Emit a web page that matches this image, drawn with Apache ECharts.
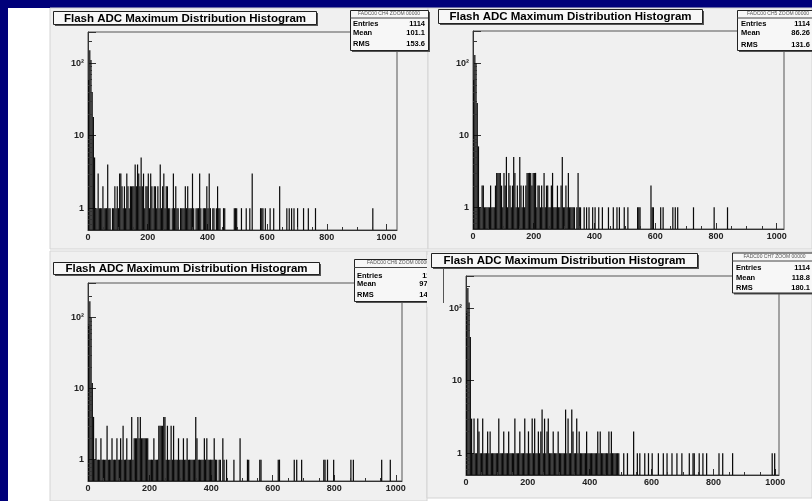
<!DOCTYPE html>
<html><head><meta charset="utf-8">
<script src="https://cdn.jsdelivr.net/npm/echarts/dist/echarts.min.js"></script>
<style>html,body{margin:0;padding:0;background:#00007a;}#c{width:812px;height:501px;}</style>
</head><body><div id="c"></div><script>
// ---- data ----
const binWidth = 4;            // ADC counts per histogram bin
const yMinValue = 0.5;         // bottom of the log axis
const xMinorTicks = [50,100,150,250,300,350,450,500,550,650,700,750,850,900,950];
const yMinorTicks = [0.6,0.7,0.8,0.9,2,3,4,5,6,7,8,9,20,30,40,50,60,70,80,90,200];
const histTitle = 'Flash ADC Maximum Distribution Histogram';
const statHeaders = ['FADC00 CH4 ZOOM 00000','FADC00 CH5 ZOOM 00000','FADC00 CH6 ZOOM 00000','FADC00 CH7 ZOOM 00000'];
const statEntries = ['1114','1114','1114','1114'];
const statMeans = ['101.1','86.26','97.79','118.8'];
const statRms = ['153.6','131.6','148.1','180.1'];

const ch4Counts = [
 60,150,110,40,18,5,1,1,3,1,1,1,2,1,1,1,
 4,1,1,0,1,1,2,1,2,1,3,3,2,1,2,1,
 3,2,1,2,2,2,2,4,2,4,3,2,5,2,3,1,
 2,2,3,1,3,2,1,2,2,1,2,1,4,1,2,3,
 1,2,2,1,1,0,1,3,1,2,1,1,0,1,1,1,
 1,2,1,2,1,1,1,3,1,0,1,1,1,3,1,0,
 1,1,1,2,1,3,1,0,1,1,0,1,2,1,1,0,
 0,1,1,0,0,0,0,0,0,0,1,1,1,0,0,0,
 1,0,0,0,1,0,0,1,0,3,0,0,0,0,0,0,
 1,1,1,0,1,0,0,0,1,0,0,1,0,0,0,0,
 2,0,0,0,0,0,1,0,1,0,1,0,1,0,0,1,
 0,0,0,0,1,0,0,0,1,0,0,0,0,0,1,0,
 0,0,0,0,0,0,0,0,0,0,0,0,0,0,0,0,
 0,0,0,0,0,0,0,0,0,0,0,0,0,0,0,0,
 0,0,0,0,0,0,0,0,0,0,0,0,0,0,1,0,
 0,0,0,0,0,0,0,0,0,0,0,0,0,0,0,0];
const ch5Counts = [
 60,130,100,28,7,1,1,2,2,1,1,1,1,1,2,1,
 1,1,2,3,3,3,3,2,1,3,2,5,1,3,2,1,
 2,5,3,1,2,1,5,2,1,2,1,2,3,3,3,3,
 2,3,3,3,1,2,2,1,2,1,3,1,2,2,1,1,
 2,3,1,1,1,2,1,1,2,5,1,1,2,1,3,1,
 1,1,1,1,0,1,3,1,1,0,0,1,0,1,0,1,
 0,0,1,0,1,0,0,1,0,0,1,0,0,0,0,1,
 0,0,0,1,0,0,1,0,1,0,0,0,1,0,0,1,
 0,0,0,0,0,0,0,1,1,1,0,0,0,0,0,0,
 0,0,2,1,1,0,0,0,0,0,1,0,1,0,0,0,
 0,0,0,0,1,0,1,0,1,0,0,0,0,0,0,0,
 0,0,0,0,0,1,0,0,0,0,0,0,0,0,0,0,
 0,0,0,0,0,0,1,0,0,0,0,0,0,0,0,0,
 0,1,0,0,0,0,0,0,0,0,0,0,0,0,0,0,
 0,0,0,0,0,0,0,0,0,0,0,0,0,0,0,0,
 0,0,0,0,0,0,0,0,0,0,0,0,0,0,0,0];
const ch6Counts = [
 80,170,100,12,4,1,2,1,1,1,2,1,1,1,1,3,
 1,1,1,2,1,1,1,2,1,1,2,1,3,1,1,2,
 1,1,1,4,1,2,2,2,4,2,4,2,2,2,2,2,
 2,1,1,1,1,2,1,1,1,3,3,3,3,4,4,1,
 3,1,1,3,1,3,1,1,1,2,1,1,1,2,1,1,
 2,1,1,1,1,1,1,4,2,1,1,1,1,1,2,1,
 2,1,1,1,1,1,2,1,1,0,1,1,0,2,1,0,
 1,0,0,0,0,0,1,0,0,0,0,2,0,0,0,0,
 0,1,1,0,0,0,0,0,0,0,0,1,1,0,0,0,
 0,0,0,0,0,0,0,0,0,0,1,1,0,0,0,0,
 0,0,0,0,0,0,0,1,0,1,0,0,0,1,0,0,
 0,0,0,0,0,0,0,0,0,0,0,0,0,0,0,1,
 1,0,1,0,0,0,0,1,0,0,0,0,0,0,0,0,
 0,0,0,0,0,1,0,1,0,0,0,0,0,0,0,0,
 0,0,0,0,0,0,0,0,0,0,0,0,0,0,1,0,
 0,0,0,0,0,1,0,0,0,0,0,0,0,0,0,0];
const ch7Counts = [
 90,190,120,40,3,1,3,1,1,3,2,1,1,3,1,1,
 1,2,1,2,1,1,1,1,1,1,3,1,1,1,2,1,
 1,1,2,1,1,1,1,3,1,1,1,2,1,1,1,3,
 1,1,2,1,1,3,1,3,1,1,2,1,2,4,1,3,
 1,2,3,1,1,1,2,1,1,1,2,1,1,1,1,1,
 4,1,3,1,1,4,2,1,1,3,1,2,1,1,1,1,
 1,2,1,1,1,1,1,1,1,1,2,1,2,1,1,1,
 1,1,1,2,1,2,1,1,1,1,1,1,0,0,0,1,
 0,0,1,0,0,0,0,2,0,0,1,0,1,0,0,0,
 1,0,0,1,0,0,1,0,0,0,0,1,0,0,0,1,
 0,0,1,0,0,0,1,0,0,0,1,0,0,0,1,0,
 0,0,0,0,1,0,0,1,1,0,0,0,1,0,0,1,
 0,0,1,0,0,0,0,0,0,0,0,0,1,0,0,1,
 0,0,0,0,0,0,0,1,0,0,0,0,0,0,0,0,
 0,0,0,0,0,0,0,0,0,0,0,0,0,0,0,0,
 0,0,0,0,0,0,0,1,0,1,0,0,0,0,0,0];
const panelCounts = [ch4Counts, ch5Counts, ch6Counts, ch7Counts];

// ---- layout (pixels) ----
const FONT = '"Liberation Sans", Arial, sans-serif';
const PANEL_BG = '#f0f0f0';
const layout = [
 {bg:[50,8,378,241], grid:[88,32,309,198], xMax:1035, yMax:268, title:[53,11,263,13],
  stat:{x:350,y:10,w:78,h:40,hdr:13.5,sep:17.5,rows:[24,32.5,44],lx:353,vx:425}},
 {bg:[428,8,384,241], grid:[473,31,311,198], xMax:1024, yMax:279, title:[438,9,264,14],
  stat:{x:737,y:10,w:82,h:40,hdr:13.5,sep:17.5,rows:[24,32.5,45],lx:741,vx:810}},
 {bg:[50,251,377,250], grid:[88,283,314,198], xMax:1020, yMax:308, title:[53,262,266,12],
  stat:{x:354,y:259,w:88,h:42,hdr:263,sep:267,rows:[275.5,283.5,295],lx:357,vx:438}},
 {bg:[427,251,385,247], grid:[466,276,313,199], xMax:1012, yMax:279, title:[431,253,266,14],
  stat:{x:732,y:252.5,w:85,h:40,hdr:256.5,sep:260.5,rows:[268.3,278.3,288.3],lx:736,vx:810}}
];

function fmtLog(v){
  const e = Math.log10(v);
  if (Math.abs(e - Math.round(e)) > 1e-6) return '';
  const r = Math.round(e);
  if (r === 0) return '1';
  if (r === 1) return '10';
  if (r === 2) return '10²';
  return '';
}

const grids = [], xAxes = [], yAxes = [], series = [], gfx = [];
gfx.push({type:'rect', shape:{x:8,y:8,width:804,height:493}, style:{fill:'#ffffff'}, z:-10, silent:true});

layout.forEach((L, i) => {
  gfx.push({type:'rect', shape:{x:L.bg[0],y:L.bg[1],width:L.bg[2],height:L.bg[3]},
    style:{fill:PANEL_BG, stroke:'#d4d4d4', lineWidth:1}, z:-9, silent:true});
  grids.push({left:L.grid[0], top:L.grid[1], width:L.grid[2], height:L.grid[3],
    show:true, borderColor:'#555', borderWidth:1, backgroundColor:'transparent'});
  xAxes.push({type:'value', gridIndex:i, min:0, max:L.xMax, interval:200,
    axisLine:{show:true, lineStyle:{color:'#333', width:1}},
    axisTick:{show:true, inside:true, length:6, lineStyle:{color:'#333'}},
    axisLabel:{fontSize:9, fontWeight:'bold', color:'#222', margin:3, fontFamily:FONT, showMaxLabel:false,
      formatter: v => String(v)},
    splitLine:{show:false}});
  yAxes.push({type:'log', logBase:10, gridIndex:i, min:yMinValue, max:L.yMax,
    axisLine:{show:true, lineStyle:{color:'#333', width:1}},
    axisTick:{show:true, inside:true, length:8, lineStyle:{color:'#333'}},
    axisLabel:{formatter:fmtLog, fontSize:9, fontWeight:'bold', color:'#222', margin:4, fontFamily:FONT},
    splitLine:{show:false}});
  const counts = panelCounts[i];
  series.push({type:'custom', xAxisIndex:i, yAxisIndex:i, clip:true, silent:true, z:3,
    data: counts.map((c,k)=>[k*binWidth, c]).filter(d=>d[1]>0),
    renderItem(params, api){
      const x0 = api.value(0), c = api.value(1);
      const a = api.coord([x0, yMinValue]);
      const b = api.coord([x0 + binWidth, c]);
      const w = Math.max(b[0]-a[0], 1);
      return {type:'rect', shape:{x:a[0], y:b[1], width:w, height:a[1]-b[1]}, style:{fill:'#0a0a0a'}};
    }});
  series.push({type:'custom', xAxisIndex:i, yAxisIndex:i, clip:false, silent:true, z:4,
    data: xMinorTicks.filter(v=>v<L.xMax).map(v=>[v, yMinValue]),
    renderItem(params, api){
      const c = api.coord([api.value(0), api.value(1)]);
      const x = Math.round(c[0]) + 0.5;
      return {type:'line', shape:{x1:x, y1:c[1], x2:x, y2:c[1]-3}, style:{stroke:'#333', lineWidth:1}};
    }});
  series.push({type:'custom', xAxisIndex:i, yAxisIndex:i, clip:false, silent:true, z:4,
    data: yMinorTicks.filter(v=>v<L.yMax).map(v=>[0, v]),
    renderItem(params, api){
      const c = api.coord([api.value(0), api.value(1)]);
      const y = Math.round(c[1]) + 0.5;
      return {type:'line', shape:{x1:c[0], y1:y, x2:c[0]+4, y2:y}, style:{stroke:'#333', lineWidth:1}};
    }});
});

function titleBox(L, zb){
  const [x,y,w,h] = L.title;
  return [
    {type:'rect', shape:{x:x+2,y:y+2,width:w,height:h}, style:{fill:'#555'}, z:zb, silent:true},
    {type:'rect', shape:{x:x+0.5,y:y+0.5,width:w,height:h}, style:{fill:'#f7f7f7', stroke:'#222', lineWidth:1}, z:zb+1, silent:true},
    {type:'text', z:zb+2, silent:true, style:{text:histTitle, x:x+w/2+0.5, y:y+h/2+1, font:'bold 11.5px '+FONT,
      fill:'#000', textAlign:'center', textVerticalAlign:'middle', align:'center', verticalAlign:'middle'}}
  ];
}
function statBox(L, i, zb){
  const s = L.stat;
  const f = 'bold 7.5px '+FONT;
  const rows = [['Entries', statEntries[i]], ['Mean', statMeans[i]], ['RMS', statRms[i]]];
  const out = [
    {type:'rect', shape:{x:s.x+2,y:s.y+2,width:s.w,height:s.h}, style:{fill:'#555'}, z:zb, silent:true},
    {type:'rect', shape:{x:s.x+0.5,y:s.y+0.5,width:s.w,height:s.h}, style:{fill:'#f7f7f7', stroke:'#222', lineWidth:1}, z:zb+1, silent:true},
    {type:'line', shape:{x1:s.x, y1:s.sep+0.5, x2:s.x+s.w, y2:s.sep+0.5}, style:{stroke:'#444', lineWidth:1}, z:zb+2, silent:true},
    {type:'text', z:zb+2, silent:true, style:{text:statHeaders[i], x:s.x+s.w/2, y:s.hdr, font:'5px '+FONT,
      fill:'#555', textAlign:'center', textVerticalAlign:'middle', align:'center', verticalAlign:'middle'}}
  ];
  rows.forEach((r, k) => {
    out.push({type:'text', z:zb+2, silent:true, style:{text:r[0], x:s.lx, y:s.rows[k], font:f, fill:'#000',
      textAlign:'left', textVerticalAlign:'middle', align:'left', verticalAlign:'middle'}});
    out.push({type:'text', z:zb+2, silent:true, style:{text:r[1], x:s.vx, y:s.rows[k], font:f, fill:'#000',
      textAlign:'right', textVerticalAlign:'middle', align:'right', verticalAlign:'middle'}});
  });
  return out;
}

gfx.push(...titleBox(layout[0], 10), ...statBox(layout[0], 0, 10));
gfx.push(...titleBox(layout[1], 10), ...statBox(layout[1], 1, 10));
gfx.push(...titleBox(layout[2], 10), ...statBox(layout[2], 2, 10));
// panel 4 covers the right end of panel 3's stats box
gfx.push({type:'rect', shape:{x:427,y:255,width:16,height:52}, style:{fill:PANEL_BG}, z:14, silent:true});
gfx.push(...statBox(layout[3], 3, 15));
gfx.push(...titleBox(layout[3], 15));

const chart = echarts.init(document.getElementById('c'), null, {renderer:'canvas'});
chart.setOption({
  backgroundColor:'#00007a',
  animation:false,
  textStyle:{fontFamily:FONT},
  grid:grids, xAxis:xAxes, yAxis:yAxes, series:series,
  graphic:{elements:gfx}
});
</script></body></html>
